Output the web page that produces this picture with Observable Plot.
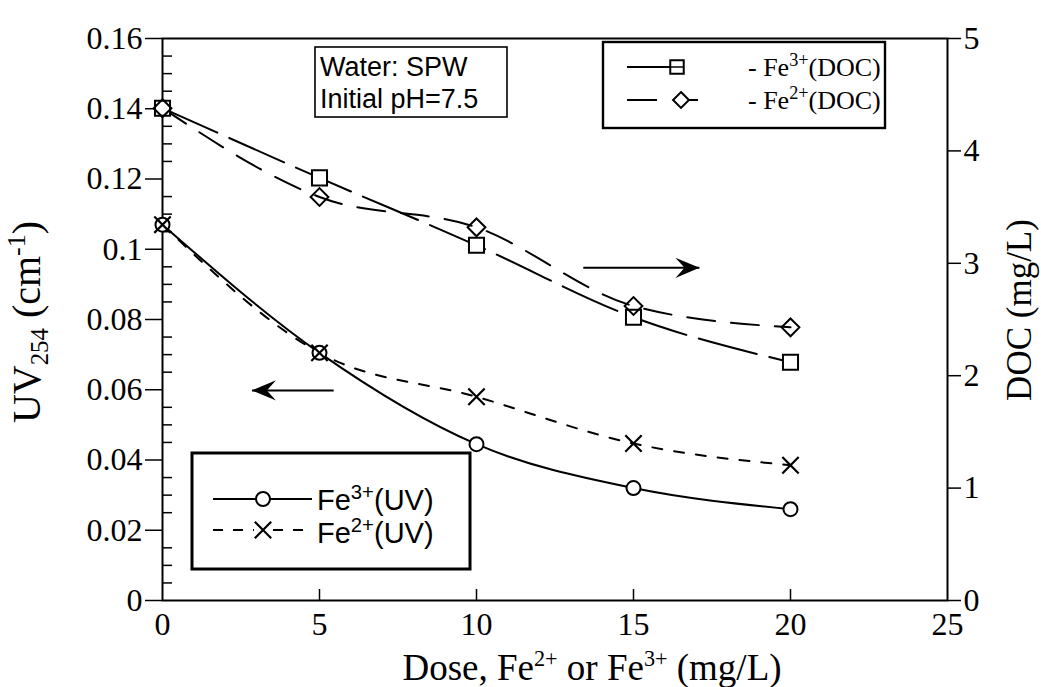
<!DOCTYPE html>
<html>
<head>
<meta charset="utf-8">
<script src="https://cdn.jsdelivr.net/npm/d3@7"></script>
<script src="https://cdn.jsdelivr.net/npm/@observablehq/plot@0.6"></script>
<style>
  html, body { margin: 0; padding: 0; background: #fff; }
  #chart { width: 1041px; height: 687px; }
  #chart svg { overflow: visible; }
</style>
</head>
<body>
<div id="chart"></div>
<script>
// Iron dose (mg/L)
const dose = [0, 5, 10, 15, 20];
// UV254 absorbance (cm^-1), left axis
const uvFe3 = [0.107, 0.0705, 0.0445, 0.032, 0.026];
const uvFe2 = [0.107, 0.0705, 0.058, 0.0447, 0.0385];
// Dissolved organic carbon (mg/L), right axis
const docFe3 = [4.38, 3.76, 3.16, 2.52, 2.12];
const docFe2 = [4.38, 3.59, 3.32, 2.62, 2.43];

// Axis ticks and labels
const xTicks = [0, 5, 10, 15, 20, 25];
const uvTicks = [0, 0.02, 0.04, 0.06, 0.08, 0.1, 0.12, 0.14, 0.16];
const uvTickLabels = ["0", "0.02", "0.04", "0.06", "0.08", "0.1", "0.12", "0.14", "0.16"];
const docTicks = [0, 1, 2, 3, 4, 5];
const docTickLabels = ["0", "1", "2", "3", "4", "5"];
const uvMinor = [0.005, 0.01, 0.015, 0.025, 0.03, 0.035, 0.045, 0.05, 0.055, 0.065, 0.07, 0.075,
                 0.085, 0.09, 0.095, 0.105, 0.11, 0.115, 0.125, 0.13, 0.135, 0.145, 0.15, 0.155];

// Direction arrows: which curves belong to which axis
const docArrow = {from: 13.4, to: 17.1, doc: 2.96};
const uvArrow = {from: 5.45, to: 2.85, uv: 0.0598};

// The DOC axis shares the frame with the UV axis: 0–5 mg/L spans 0–0.16 cm^-1
const uvMax = 0.16, docMax = 5;
const docToY = d => d * uvMax / docMax;

const W = 1041, H = 687;
const mL = 162, mR = 94, mT = 38, mB = 87;
const innerW = W - mL - mR, innerH = H - mT - mB;

const uvRows = dose.map((x, i) => ({x, fe3: uvFe3[i], fe2: uvFe2[i]}));
const docRows = dose.map((x, i) => ({x, fe3: docToY(docFe3[i]), fe2: docToY(docFe2[i])}));

// Filled, notched arrow heads pointing right and left
const headRight = {draw(ctx, size) {
  const r = Math.sqrt(size / Math.PI);
  ctx.moveTo(0, 0); ctx.lineTo(-r, -r * 0.42); ctx.lineTo(-r * 0.62, 0); ctx.lineTo(-r, r * 0.42); ctx.closePath();
}};
const headLeft = {draw(ctx, size) {
  const r = Math.sqrt(size / Math.PI);
  ctx.moveTo(0, 0); ctx.lineTo(r, -r * 0.42); ctx.lineTo(r * 0.62, 0); ctx.lineTo(r, r * 0.42); ctx.closePath();
}};

const serif = "'Liberation Serif', 'Times New Roman', serif";
const sans = "'Liberation Sans', Arial, sans-serif";
const lw = 2;
const tickFont = {fontFamily: serif, fontSize: 32};

const svg = Plot.plot({
  width: W, height: H,
  marginLeft: mL, marginRight: mR, marginTop: mT, marginBottom: mB,
  style: {fontFamily: serif, fontSize: "32px", background: "white", color: "black"},
  x: {domain: [0, 25]},
  y: {domain: [0, uvMax]},
  marks: [
    Plot.frame({stroke: "black", strokeWidth: 2}),
    // bottom axis: labels below, short ticks pointing inward
    Plot.axisX({ticks: xTicks, tickSize: 0, tickPadding: 12, label: null, tickFormat: d => String(d), ...tickFont}),
    Plot.tickX(xTicks.slice(1, -1), {x: d => d, insetTop: innerH - 11, strokeWidth: 1.5}),
    // left UV axis with outward major ticks and inward minor ticks
    Plot.axisY({anchor: "left", ticks: uvTicks, tickSize: 17, tickPadding: 3, strokeWidth: 1.5, label: null,
                tickFormat: d => uvTickLabels[uvTicks.indexOf(d)], ...tickFont}),
    Plot.tickY(uvMinor, {y: d => d, insetRight: innerW - 10, strokeWidth: 1.5}),
    // right DOC axis
    Plot.axisY({anchor: "right", ticks: docTicks.map(docToY), tickSize: 13, tickPadding: 3, strokeWidth: 1.5, label: null,
                tickFormat: d => docTickLabels[Math.round(d / docToY(1))], ...tickFont}),

    // DOC curves
    Plot.line(docRows, {x: "x", y: "fe3", curve: "monotone-x", stroke: "black", strokeWidth: lw, strokeDasharray: "60,13"}),
    Plot.line(docRows, {x: "x", y: "fe2", curve: "monotone-x", stroke: "black", strokeWidth: lw, strokeDasharray: "28,16"}),
    Plot.dot(docRows, {x: "x", y: "fe3", symbol: "square", r: 8.5, fill: "white", stroke: "black", strokeWidth: 2}),
    Plot.dot(docRows, {x: "x", y: "fe2", symbol: "diamond2", r: 8, fill: "none", stroke: "black", strokeWidth: 2}),

    // UV curves
    Plot.line(uvRows, {x: "x", y: "fe3", curve: "monotone-x", stroke: "black", strokeWidth: lw}),
    Plot.line(uvRows, {x: "x", y: "fe2", curve: "monotone-x", stroke: "black", strokeWidth: lw, strokeDasharray: "10,12"}),
    Plot.dot(uvRows, {x: "x", y: "fe3", symbol: "circle", r: 7, fill: "white", stroke: "black", strokeWidth: 2}),
    Plot.dot(uvRows, {x: "x", y: "fe2", symbol: "times", r: 7.5, stroke: "black", strokeWidth: 2.2}),

    // arrows
    Plot.link([docArrow], {x1: "from", x2: "to", y1: d => docToY(d.doc), y2: d => docToY(d.doc), stroke: "black", strokeWidth: 2}),
    Plot.dot([docArrow], {x: "to", y: d => docToY(d.doc), symbol: headRight, r: 24, fill: "black", stroke: "none"}),
    Plot.link([uvArrow], {x1: "from", x2: "to", y1: "uv", y2: "uv", stroke: "black", strokeWidth: 2}),
    Plot.dot([uvArrow], {x: "to", y: "uv", symbol: headLeft, r: 24, fill: "black", stroke: "none"})
  ]
});

document.getElementById("chart").appendChild(svg);

// tick labels in the serif face
d3.select(svg).selectAll("text").style("font-family", serif).style("font-size", "32px");

// ---- labels, note box and legends drawn on top of the plot ----
const root = d3.select(svg).append("g").attr("class", "annotations");

// text with super/subscript pieces: parts = [[text, "sup"|"sub"|null], ...]
function richText(g, x, y, parts, {family = serif, size = 30, anchor = "start", rotate = 0, supScale = 0.65} = {}) {
  const t = g.append("text")
    .attr("transform", `translate(${x},${y}) rotate(${rotate})`)
    .attr("text-anchor", anchor)
    .style("font-family", family)
    .style("font-size", size + "px")
    .attr("fill", "black");
  for (const [s, kind] of parts) {
    const ts = t.append("tspan").text(s);
    if (kind === "sup") ts.style("font-size", (size * supScale) + "px").attr("baseline-shift", size * 0.38);
    if (kind === "sub") ts.style("font-size", (size * 0.62) + "px").attr("baseline-shift", -size * 0.2);
  }
  return t;
}

// axis titles
richText(root, 40, 322, [["UV", null], ["254", "sub"], [" (cm", null], ["-1", "sup"], [")", null]],
         {size: 40, anchor: "middle", rotate: -90});
richText(root, 1031, 310, [["DOC (mg/L)", null]], {size: 35, anchor: "middle", rotate: -90});
richText(root, 592, 680, [["Dose, Fe", null], ["2+", "sup"], [" or Fe", null], ["3+", "sup"], [" (mg/L)", null]],
         {size: 37, anchor: "middle", supScale: 0.6});

// water sample note
root.append("rect").attr("x", 315).attr("y", 47).attr("width", 192).attr("height", 70)
  .attr("fill", "white").attr("stroke", "black").attr("stroke-width", 1.6);
richText(root, 320, 76, [["Water: SPW", null]], {family: sans, size: 27});
richText(root, 320, 108, [["Initial pH=7.5", null]], {family: sans, size: 27});

// DOC legend
root.append("rect").attr("x", 603).attr("y", 42).attr("width", 282).attr("height", 86)
  .attr("fill", "white").attr("stroke", "black").attr("stroke-width", 2.4);
root.append("line").attr("x1", 627).attr("x2", 670).attr("y1", 67).attr("y2", 67)
  .attr("stroke", "black").attr("stroke-width", lw);
root.append("path").attr("d", d3.symbol(d3.symbolSquare, 8.5 * 8.5 * Math.PI * 0.8)())
  .attr("transform", "translate(677,67)").attr("fill", "white").attr("stroke", "black").attr("stroke-width", 2);
root.append("line").attr("x1", 670).attr("x2", 684).attr("y1", 67).attr("y2", 67)
  .attr("stroke", "black").attr("stroke-width", 1.5);
richText(root, 748, 76, [["- Fe", null], ["3+", "sup"], ["(DOC)", null]], {size: 26, supScale: 0.7});
root.append("line").attr("x1", 627).attr("x2", 698).attr("y1", 100).attr("y2", 100)
  .attr("stroke", "black").attr("stroke-width", lw).attr("stroke-dasharray", "30,18");
root.append("path").attr("d", d3.symbol(d3.symbolDiamond2, 8 * 8 * Math.PI * 0.8)())
  .attr("transform", "translate(681,100)").attr("fill", "white").attr("stroke", "black").attr("stroke-width", 2);
richText(root, 748, 109, [["- Fe", null], ["2+", "sup"], ["(DOC)", null]], {size: 26, supScale: 0.7});

// UV legend
root.append("rect").attr("x", 192).attr("y", 453).attr("width", 278).attr("height", 116)
  .attr("fill", "white").attr("stroke", "black").attr("stroke-width", 3);
root.append("line").attr("x1", 213).attr("x2", 312).attr("y1", 499).attr("y2", 499)
  .attr("stroke", "black").attr("stroke-width", lw);
root.append("circle").attr("cx", 263).attr("cy", 499).attr("r", 7)
  .attr("fill", "white").attr("stroke", "black").attr("stroke-width", 2);
richText(root, 317, 510, [["Fe", null], ["3+", "sup"], ["(UV)", null]], {family: sans, size: 29, supScale: 0.7});
root.append("line").attr("x1", 213).attr("x2", 312).attr("y1", 530).attr("y2", 530)
  .attr("stroke", "black").attr("stroke-width", lw).attr("stroke-dasharray", "10,10");
root.append("rect").attr("x", 254).attr("y", 521).attr("width", 18).attr("height", 18).attr("fill", "white");
root.append("path").attr("d", d3.symbol(d3.symbolTimes, 7.5 * 7.5 * Math.PI)())
  .attr("transform", "translate(263,530)").attr("fill", "none").attr("stroke", "black").attr("stroke-width", 2.2);
richText(root, 317, 543, [["Fe", null], ["2+", "sup"], ["(UV)", null]], {family: sans, size: 29, supScale: 0.7});
</script>
</body>
</html>
